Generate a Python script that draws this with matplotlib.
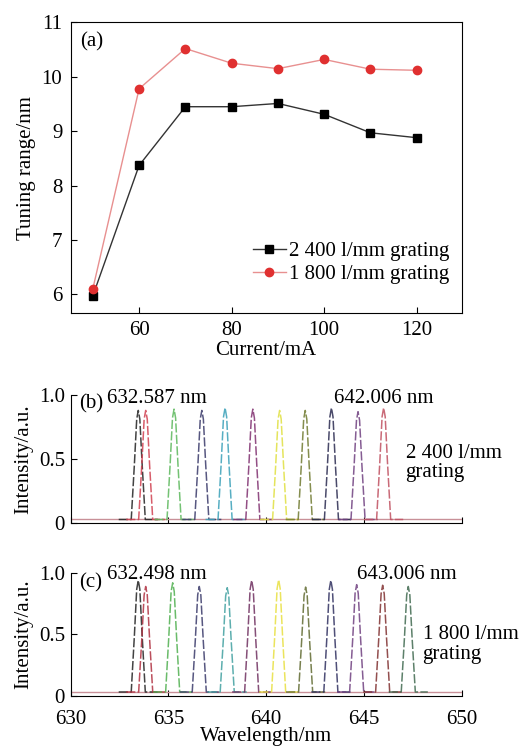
import matplotlib
matplotlib.use("Agg")
import matplotlib.pyplot as plt
import numpy as np

plt.rcParams["font.family"] = ["Liberation Serif", "DejaVu Serif"]
plt.rcParams["mathtext.fontset"] = "stix"

# ── panel (a): tuning range vs current ───────────────────────────────────
current = [50, 60, 70, 80, 90, 100, 110, 120]
range_2400 = [5.97, 8.37, 9.45, 9.45, 9.51, 9.31, 8.97, 8.88]
range_1800 = [6.10, 9.78, 10.52, 10.25, 10.15, 10.32, 10.14, 10.12]

# ── panels (b), (c): peak centres / heights ──────────────────────────────
peaks_2400 = [633.46, 633.84, 635.29, 636.71, 637.90, 639.32, 640.69, 642.00, 643.34, 644.70, 646.01]
heights_2400 = [0.88, 0.88, 0.89, 0.88, 0.90, 0.89, 0.88, 0.88, 0.90, 0.87, 0.90]
colors_2400 = ["#222222", "#d04050", "#5cb85c", "#3a3a6a", "#3aa0b8", "#803070",
               "#e0e040", "#707a30", "#2a2a50", "#704080", "#c05060"]

peaks_1800 = [633.46, 633.84, 635.22, 636.58, 638.01, 639.26, 640.64, 642.02, 643.31, 644.63, 645.96, 647.27]
heights_1800 = [0.94, 0.89, 0.92, 0.89, 0.88, 0.94, 0.945, 0.885, 0.94, 0.905, 0.90, 0.89]
colors_1800 = ["#222222", "#b03040", "#50b050", "#3a3a6a", "#40a0a0", "#703060",
               "#e8e040", "#606a30", "#303060", "#704080", "#803030", "#406a50"]

# shared line shape of one peak (offset nm, relative level)
shape_dx = [-1.0, -0.36, -0.2, -0.08, 0.0, 0.08, 0.2, 0.36, 1.0]
shape_lv = [0.0, 0.0, 0.5, 0.92, 1.0, 0.92, 0.5, 0.0, 0.0]
baseline = 0.03

FS = 15

fig = plt.figure(figsize=(5.27, 7.49), dpi=100)

# ── (a) ──────────────────────────────────────────────────────────────────
ax1 = fig.add_axes([0.134, 0.5825, 0.742, 0.3875])
ax1.plot(current, range_2400, color="#333333", lw=1.0, marker="s", ms=5.5,
         mfc="black", mec="black", label="2 400 l/mm grating")
ax1.plot(current, range_1800, color="#e89090", lw=1.0, marker="o", ms=6,
         mfc="#e03030", mec="#e03030", label="1 800 l/mm grating")
ax1.set_xlim(45.2, 129.7)
ax1.set_ylim(5.66, 11)
ax1.set_xticks([60, 80, 100, 120])
ax1.set_yticks([6, 7, 8, 9, 10, 11])
ax1.tick_params(direction="in", labelsize=FS, length=4, pad=6)
ax1.set_xlabel("Current/mA", fontsize=FS, labelpad=1)
ax1.set_ylabel("Tuning range/nm", fontsize=FS, labelpad=4)
ax1.text(0.024, 0.934, "(a)", transform=ax1.transAxes, fontsize=FS, va="center")
ax1.legend(loc="lower right", bbox_to_anchor=(0.99, 0.07), frameon=False,
           fontsize=FS, handlelength=1.6, handletextpad=0.15, labelspacing=0.15,
           borderaxespad=0)


def spectrum(ax, centres, heights, colors):
    ax.plot([630, 650], [baseline, baseline], color="#c89098", lw=1.0)
    dx = np.array(shape_dx)
    lv = np.array(shape_lv)
    for c, h, col in zip(centres, heights, colors):
        ax.plot(c + dx, baseline + (h - baseline) * lv, color=col, lw=1.1,
                ls=(0, (6, 1.5)), alpha=0.85)
    ax.set_xlim(630, 650)
    ax.set_ylim(0, 1.0)
    ax.set_xticks([630, 635, 640, 645, 650])
    ax.set_yticks([0, 0.5, 1.0])
    ax.set_yticklabels(["0", "0.5", "1.0"])
    ax.spines["top"].set_visible(False)
    ax.spines["right"].set_visible(False)
    ax.tick_params(direction="in", labelsize=FS, length=4, pad=4)
    ax.tick_params(axis="x", pad=10)
    ax.set_ylabel("Intensity/a.u.", fontsize=FS, labelpad=4)


# ── (b) ──────────────────────────────────────────────────────────────────
ax2 = fig.add_axes([0.134, 0.3013, 0.742, 0.1713])
spectrum(ax2, peaks_2400, heights_2400, colors_2400)
ax2.tick_params(labelbottom=False)
ax2.text(630.45, 0.935, "(b)", fontsize=FS, va="center")
ax2.text(631.87, 0.975, "632.587 nm", fontsize=FS, va="center")
ax2.text(643.45, 0.975, "642.006 nm", fontsize=FS, va="center")
ax2.text(647.13, 0.47, "2 400 l/mm\ngrating", fontsize=FS, va="center",
         linespacing=1.05)

# ── (c) ──────────────────────────────────────────────────────────────────
ax3 = fig.add_axes([0.134, 0.0712, 0.742, 0.1638])
spectrum(ax3, peaks_1800, heights_1800, colors_1800)
ax3.set_xlabel("Wavelength/nm", fontsize=FS, labelpad=-1)
ax3.text(630.45, 0.916, "(c)", fontsize=FS, va="center")
ax3.text(631.87, 0.99, "632.498 nm", fontsize=FS, va="center")
ax3.text(644.66, 0.99, "643.006 nm", fontsize=FS, va="center")
ax3.text(648.0, 0.415, "1 800 l/mm\ngrating", fontsize=FS, va="center",
         linespacing=1.05)

fig.savefig("out.png", dpi=100)
